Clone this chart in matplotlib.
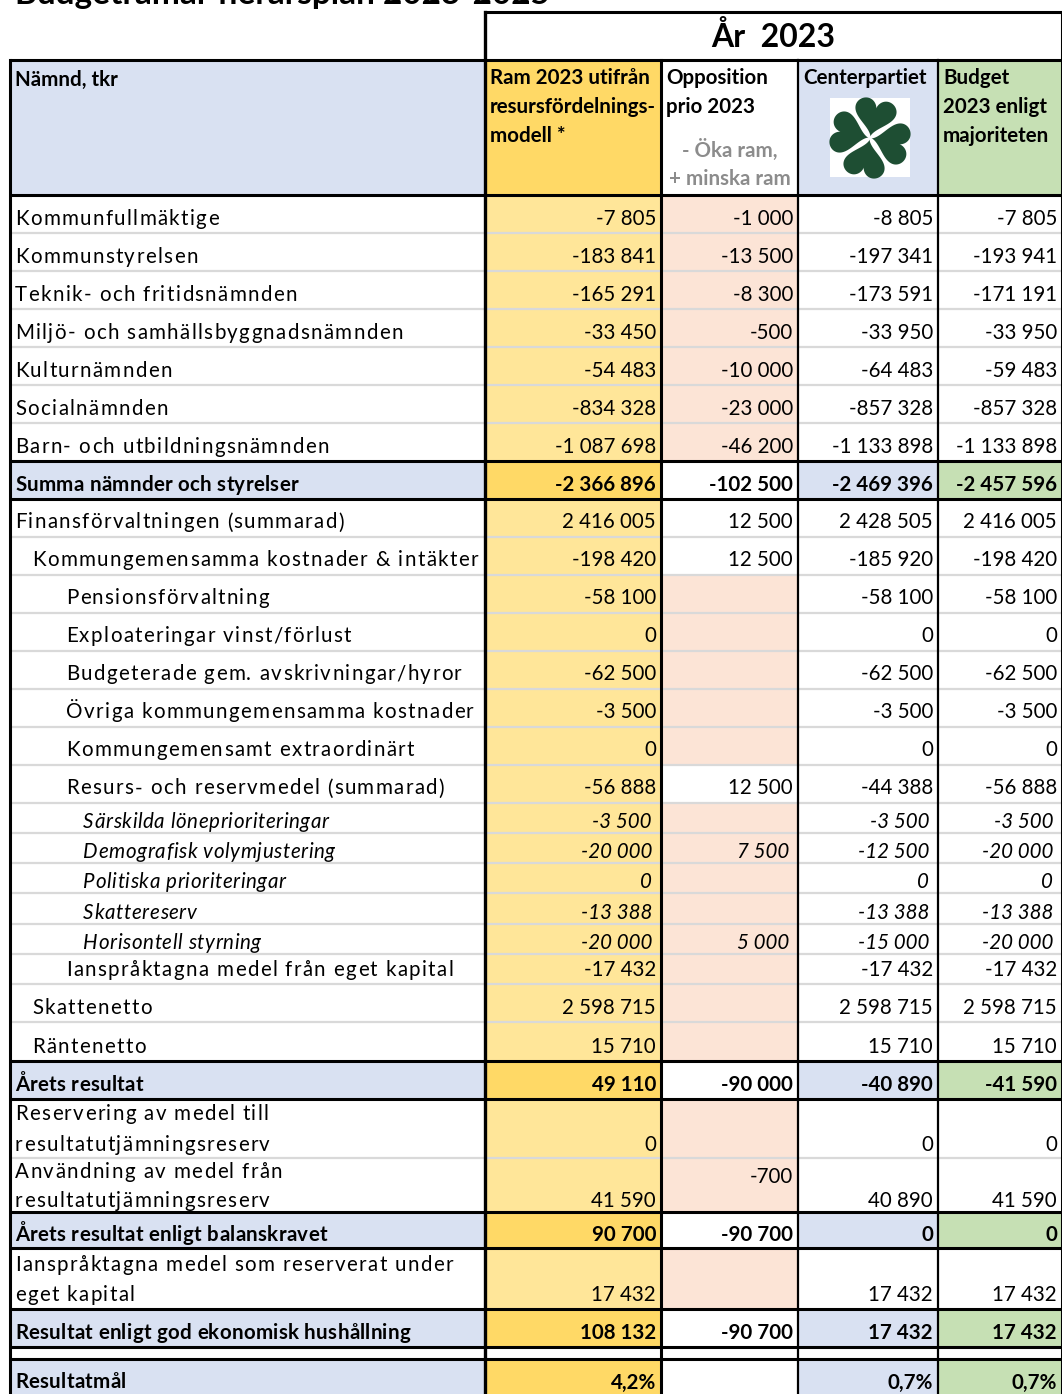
import numpy as np
import matplotlib.pyplot as plt
from matplotlib.patches import Rectangle, Polygon
from matplotlib.font_manager import FontProperties, findfont
from matplotlib.ft2font import FT2Font

plt.rcParams['font.family'] = ['Lato', 'DejaVu Sans']

# ---- data ----
title = "Budgetramar flerårsplan 2023-2025"
year_label = "År  2023"
label_header = "Nämnd, tkr"
col_headers = ["Ram 2023 utifrån\nresursfördelnings-\nmodell *",
               "Opposition\nprio 2023",
               "Centerpartiet",
               "Budget\n2023 enligt\nmajoriteten"]
opp_note = "- Öka ram,\n+ minska ram"

labels = [
    "Kommunfullmäktige", "Kommunstyrelsen", "Teknik- och fritidsnämnden",
    "Miljö- och samhällsbyggnadsnämnden", "Kulturnämnden", "Socialnämnden",
    "Barn- och utbildningsnämnden", "Summa nämnder och styrelser",
    "Finansförvaltningen (summarad)", "Kommungemensamma kostnader & intäkter",
    "Pensionsförvaltning", "Exploateringar vinst/förlust",
    "Budgeterade gem. avskrivningar/hyror", "Övriga kommungemensamma kostnader",
    "Kommungemensamt extraordinärt", "Resurs- och reservmedel (summarad)",
    "Särskilda löneprioriteringar", "Demografisk volymjustering",
    "Politiska prioriteringar", "Skattereserv", "Horisontell styrning",
    "Ianspråktagna medel från eget kapital", "Skattenetto", "Räntenetto",
    "Årets resultat", "Reservering av medel till\nresultatutjämningsreserv",
    "Användning av medel från\nresultatutjämningsreserv",
    "Årets resultat enligt balanskravet",
    "Ianspråktagna medel som reserverat under\neget kapital",
    "Resultat enligt god ekonomisk hushållning", "", "Resultatmål",
]
ram = [-7805, -183841, -165291, -33450, -54483, -834328, -1087698, -2366896,
       2416005, -198420, -58100, 0, -62500, -3500, 0, -56888,
       -3500, -20000, 0, -13388, -20000, -17432, 2598715, 15710,
       49110, 0, 41590, 90700, 17432, 108132, None, 4.2]
opposition = [-1000, -13500, -8300, -500, -10000, -23000, -46200, -102500,
              12500, 12500, None, None, None, None, None, 12500,
              None, 7500, None, None, 5000, None, None, None,
              -90000, None, -700, -90700, None, -90700, None, None]
centerpartiet = [-8805, -197341, -173591, -33950, -64483, -857328, -1133898, -2469396,
                 2428505, -185920, -58100, 0, -62500, -3500, 0, -44388,
                 -3500, -12500, 0, -13388, -15000, -17432, 2598715, 15710,
                 -40890, 0, 40890, 0, 17432, 17432, None, 0.7]
budget = [-7805, -193941, -171191, -33950, -59483, -857328, -1133898, -2457596,
          2416005, -198420, -58100, 0, -62500, -3500, 0, -56888,
          -3500, -20000, 0, -13388, -20000, -17432, 2598715, 15710,
          -41590, 0, 41590, 0, 17432, 17432, None, 0.7]

# ---- layout / style ----
kinds = (['n'] * 7 + ['b'] + ['n'] * 8 + ['i'] * 5 + ['n'] * 3
         + ['b', 'n', 'n', 'b', 'n', 'b', 'gap', 'pct'])
indent = ([0] * 9 + [1] + [2] * 6 + [3] * 5 + [2, 1, 1] + [0] * 8)
row_heights = ([38] * 7 + [37.5] + [38] * 8 + [30.3] * 5 + [30.2, 38.2, 38.2]
               + [38, 59.7, 54, 36, 60.5, 37.7, 12.5, 37])
opp_white_rows = {8, 9, 15}
col_edges = [10, 485, 661, 798, 938, 1062]
indent_x = [15, 32, 66, 83]
year_top, header_top, header_bottom = 12, 60, 195

BLUE, GOLD, LIGHT_GOLD = '#D9E1F2', '#FFD966', '#FFE699'
PEACH, GREEN, GRID = '#FCE4D6', '#C6E0B4', '#D9D9D9'
CLOVER = '#1E4E33'
FS = 14.8
TRACK = {'n': 1.4, 'i': 0.6, 'b': 0.3, 'pct': 0.3, 'gap': 0}

fig = plt.figure(figsize=(10.62, 13.94), dpi=100)
ax = fig.add_axes([0, 0, 1, 1])
ax.set_xlim(0, 1062)
ax.set_ylim(1394, 0)
ax.axis('off')

_fonts = {}


def spaced_text(x, y, s, weight, style, track):
    # the spreadsheet renders the row labels letter-spaced
    prop = FontProperties(family='Lato', size=FS, weight=weight, style=style)
    key = (weight, style)
    if key not in _fonts:
        f = FT2Font(findfont(prop))
        f.set_size(FS, 100)
        _fonts[key] = f
    font = _fonts[key]
    for ch in s:
        ax.text(x, y, ch, fontproperties=prop, va='baseline', zorder=2)
        g = font.load_char(ord(ch))
        x += g.linearHoriAdvance / 65536 + track


def fmt(v, pct=False):
    if v is None:
        return ""
    if pct:
        return f"{v:.1f}%".replace(".", ",")
    s = f"{abs(v):,}".replace(",", " ")
    return "-" + s if v < 0 else s


def cell(x0, x1, y0, y1, color):
    ax.add_patch(Rectangle((x0, y0), x1 - x0, y1 - y0, facecolor=color,
                           edgecolor='none', zorder=1))


# title (cut by the top edge in the original)
ax.text(15, 4, title, fontsize=24, fontweight='bold', va='baseline', zorder=5)

# year box
ax.text((col_edges[1] + col_edges[5]) / 2, 47, year_label, fontsize=23,
        fontweight='bold', ha='center', va='baseline', zorder=5)

# header row
header_colors = [BLUE, GOLD, 'white', BLUE, GREEN]
for c in range(5):
    cell(col_edges[c], col_edges[c + 1], header_top, header_bottom, header_colors[c])
ax.text(15, 86, label_header, fontsize=FS, fontweight='bold', va='baseline', zorder=5)
for c, h in enumerate(col_headers):
    for k, line in enumerate(h.split("\n")):
        ax.text(col_edges[c + 1] + 5, 83.5 + 29.5 * k, line, fontsize=FS,
                fontweight='bold', va='baseline', zorder=5)
opp_mid = (col_edges[2] + col_edges[3]) / 2
for k, line in enumerate(opp_note.split("\n")):
    ax.text(opp_mid, 157 + 28 * k, line, fontsize=FS, fontweight='bold',
            color='#8C8C8C', ha='center', va='baseline', zorder=5)

# clover logo
cx, cy = 870, 138
ax.add_patch(Rectangle((830, 98), 80, 79, facecolor='white', edgecolor='none', zorder=2))
t = np.linspace(0, 2 * np.pi, 300)
hx = 16 * np.sin(t) ** 3
hy = 13 * np.cos(t) - 5 * np.cos(2 * t) - 2 * np.cos(3 * t) - np.cos(4 * t) + 17
for a in np.radians([12, 102, 192, 282]):
    d = np.array([np.sin(a), -np.cos(a)])
    p = np.array([np.cos(a), np.sin(a)])
    s = 1.3
    px = cx + s * (hx * p[0] + hy * d[0]) + 1.5 * d[0]
    py = cy + s * (hx * p[1] + hy * d[1]) + 1.5 * d[1]
    ax.add_patch(Polygon(np.column_stack([px, py]), closed=True,
                         facecolor=CLOVER, edgecolor='none', zorder=3))

# body
tops = header_bottom + np.concatenate([[0], np.cumsum(row_heights)])
cols = [ram, opposition, centerpartiet, budget]
for r, kind in enumerate(kinds):
    y0, y1 = tops[r], tops[r + 1]
    bold = kind in ('b', 'pct')
    if kind == 'gap':
        fills = ['white'] * 5
    else:
        fills = [BLUE if bold else 'white',
                 GOLD if bold else LIGHT_GOLD,
                 'white' if (bold or r in opp_white_rows) else PEACH,
                 BLUE if bold else 'white',
                 GREEN if bold else 'white']
    for c in range(5):
        cell(col_edges[c], col_edges[c + 1], y0, y1, fills[c])

    weight = 'bold' if bold else 'normal'
    style = 'italic' if kind == 'i' else 'normal'
    lines = labels[r].split("\n")
    n = len(lines)
    if kind == 'i':
        pad, gap = 5, 0
    elif n > 1:
        pad, gap = (5.5, 29) if r == 26 else (7.5, 30.5)
    else:
        pad, gap = (8, 0) if not bold else (7.5, 0)
    base = y1 - pad
    for k, line in enumerate(lines):
        spaced_text(indent_x[indent[r]], base - gap * (n - 1 - k), line,
                    weight, style, TRACK[kind])
    for c in range(4):
        txt = fmt(cols[c][r], pct=(kind == 'pct'))
        if not txt:
            continue
        yb = base
        if r == 26 and c == 1:
            yb = y0 + 25
        xr = col_edges[c + 2] - (9 if kind == 'i' else 5)
        ax.text(xr, yb, txt, fontsize=FS, fontweight=weight, fontstyle=style,
                ha='right', va='baseline', zorder=5)

# horizontal lines
bottom = 1394
thick_rows = {r for r, k in enumerate(kinds) if k in ('b', 'pct', 'gap')}
for r in range(1, len(kinds)):
    y = tops[r]
    if (r in thick_rows) or (r - 1 in thick_rows):
        ax.plot([col_edges[0], col_edges[5]], [y, y], color='black', lw=2.2,
                solid_capstyle='butt', zorder=6)
    else:
        ax.plot([col_edges[0], col_edges[5]], [y, y], color=GRID, lw=1.6,
                solid_capstyle='butt', zorder=4)
for y, x0 in [(header_bottom, col_edges[0]), (header_top, col_edges[0]),
              (year_top, col_edges[1])]:
    ax.plot([x0, col_edges[5]], [y, y], color='black', lw=2.2,
            solid_capstyle='butt', zorder=6)

# vertical lines
ax.plot([col_edges[0]] * 2, [header_top, bottom], color='black', lw=2.2, zorder=6)
ax.plot([col_edges[1]] * 2, [year_top, bottom], color='black', lw=2.4, zorder=6)
ax.plot([col_edges[2]] * 2, [header_top, bottom], color='black', lw=2.2, zorder=6)
ax.plot([col_edges[3]] * 2, [header_top, bottom], color='black', lw=1.6, zorder=6)
ax.plot([col_edges[4]] * 2, [header_top, bottom], color='black', lw=1.6, zorder=6)
ax.plot([col_edges[5] - 0.5] * 2, [year_top, bottom], color='black', lw=2.2, zorder=6)

fig.savefig('out.png', dpi=100)
